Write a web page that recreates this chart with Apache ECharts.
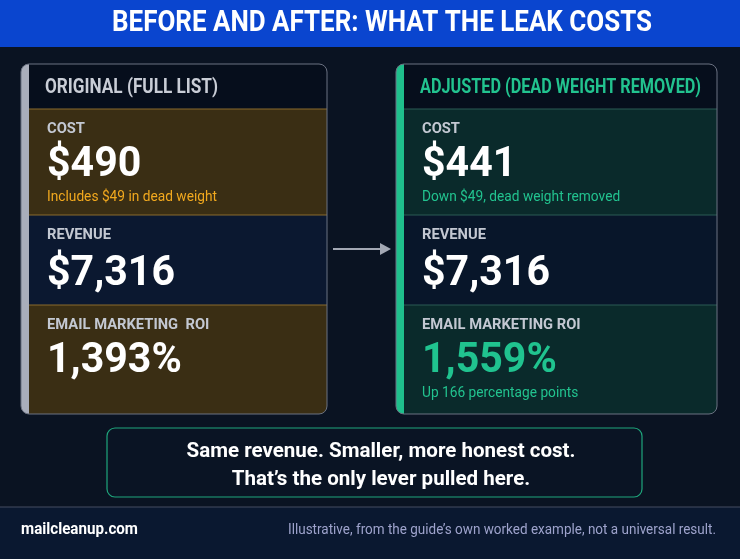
<!DOCTYPE html>
<html style="height: 100%">
<head>
    <meta charset="utf-8">
    <script src="https://cdn.jsdelivr.net/npm/echarts@6/dist/echarts.min.js"></script>
</head>
<body style="height: 100%; margin: 0; background: #0a1322">
<div id="leak_container" style="height: 559px; width: 740px"></div>
<script type="text/javascript">
    // data
    var title = 'BEFORE AND AFTER: WHAT THE LEAK COSTS';
    var panelTitles = ['ORIGINAL (FULL LIST)', 'ADJUSTED (DEAD WEIGHT REMOVED)'];
    var originalLabels = ['COST', 'REVENUE', 'EMAIL MARKETING  ROI'];
    var adjustedLabels = ['COST', 'REVENUE', 'EMAIL MARKETING ROI'];
    var originalValues = ['$490', '$7,316', '1,393%'];
    var adjustedValues = ['$441', '$7,316', '1,559%'];
    var originalNotes = ['Includes $49 in dead weight', '', ''];
    var adjustedNotes = ['Down $49, dead weight removed', '', 'Up 166 percentage points'];
    var summaryLines = ['Same revenue. Smaller, more honest cost.', 'That\u2019s the only lever pulled here.'];
    var footerSite = 'mailcleanup.com';
    var footerNote = 'Illustrative, from the guide\u2019s own worked example, not a universal result.';

    var face = 'Roboto, "Noto Sans", sans-serif';

    // condensed look: squeeze each text style so a sample string gets its width in the picture
    var measureCtx = document.createElement('canvas').getContext('2d');
    function squeeze(font, sample, width) {
        measureCtx.font = font;
        return width / measureCtx.measureText(sample).width;
    }
    var styles = {
        title:   { font: 'bold 29px ' + face },
        panel0:  { font: 'bold 20px ' + face },
        panel1:  { font: 'bold 20px ' + face },
        label:   { font: 'bold 15px ' + face },
        value:   { font: 'bold 42px ' + face },
        note:    { font: '15px ' + face },
        summary: { font: 'bold 20px ' + face },
        site:    { font: 'bold 17px ' + face },
        foot:    { font: '15px ' + face }
    };
    styles.title.sx = squeeze(styles.title.font, title, 540);
    styles.panel0.sx = squeeze(styles.panel0.font, panelTitles[0], 173);
    styles.panel1.sx = squeeze(styles.panel1.font, panelTitles[1], 281);
    styles.label.sx = squeeze(styles.label.font, 'REVENUE', 64);
    styles.value.sx = squeeze(styles.value.font, '$7,316', 128);
    styles.note.sx = squeeze(styles.note.font, originalNotes[0], 170);
    styles.summary.sx = squeeze(styles.summary.font, summaryLines[0], 389);
    styles.site.sx = squeeze(styles.site.font, footerSite, 117);
    styles.foot.sx = squeeze(styles.foot.font, footerNote, 428);

    function txt(x, y, text, kind, fill, align) {
        return {
            type: 'text', x: x, y: y, scaleX: styles[kind].sx,
            style: { x: 0, y: 0, text: text, fill: fill, font: styles[kind].font, textAlign: align || 'left', textVerticalAlign: 'middle' }
        };
    }

    // layout
    var rows = [[109, 215], [215, 305], [305, 414]];
    var cardTop = 64, cardBottom = 414;

    var panels = [
        {
            x0: 21, x1: 327, stripe: '#a9aebb', titleColor: '#c9cdd6',
            rowFill: ['#3a2e14', '#0b1830', '#3a2e14'], line: '#8a6a2c',
            labels: originalLabels, values: originalValues, notes: originalNotes,
            valueColors: ['#ffffff', '#ffffff', '#ffffff'], noteColor: '#f2a91e'
        },
        {
            x0: 396, x1: 717, stripe: '#1fbf8c', titleColor: '#22c38f',
            rowFill: ['#0a2a2b', '#08162a', '#0a2a2b'], line: '#2b5a55',
            labels: adjustedLabels, values: adjustedValues, notes: adjustedNotes,
            valueColors: ['#ffffff', '#ffffff', '#20c38f'], noteColor: '#22c38f'
        }
    ];

    function buildPanel(p, idx) {
        var els = [];
        var w = p.x1 - p.x0;
        els.push({
            type: 'rect',
            shape: { x: p.x0, y: cardTop, width: w, height: cardBottom - cardTop, r: 8 },
            style: { fill: '#060e1c' }
        });
        rows.forEach(function (r, i) {
            els.push({
                type: 'rect',
                shape: { x: p.x0, y: r[0], width: w, height: r[1] - r[0], r: i === rows.length - 1 ? [0, 0, 8, 8] : 0 },
                style: { fill: p.rowFill[i] }
            });
            els.push({
                type: 'line',
                shape: { x1: p.x0, y1: r[0], x2: p.x1, y2: r[0] },
                style: { stroke: p.line, lineWidth: 1 }
            });
            var lx = p.x0 + 26;
            els.push(txt(lx, r[0] + 20, p.labels[i], 'label', '#c3c8d2'));
            els.push(txt(lx, r[0] + (i === 1 ? 59 : 56), p.values[i], 'value', p.valueColors[i]));
            if (p.notes[i]) {
                els.push(txt(lx, r[0] + 88, p.notes[i], 'note', p.noteColor));
            }
        });
        els.push({
            type: 'rect',
            shape: { x: p.x0, y: cardTop, width: 8, height: cardBottom - cardTop, r: [8, 0, 0, 8] },
            style: { fill: p.stripe }
        });
        els.push({
            type: 'rect',
            shape: { x: p.x0, y: cardTop, width: w, height: cardBottom - cardTop, r: 8 },
            style: { fill: null, stroke: '#6b7282', lineWidth: 1 }
        });
        els.push(txt(p.x0 + 24, 88, panelTitles[idx], 'panel' + idx, p.titleColor));
        return els;
    }

    var elements = [];
    // title banner
    elements.push({ type: 'rect', shape: { x: 0, y: 0, width: 740, height: 47 }, style: { fill: '#0a45cf' } });
    elements.push(txt(382, 24, title, 'title', '#ffffff', 'center'));
    panels.forEach(function (p, i) { elements = elements.concat(buildPanel(p, i)); });

    // arrow between cards
    elements.push({ type: 'line', shape: { x1: 333, y1: 249, x2: 386, y2: 249 }, style: { stroke: '#a3a8b4', lineWidth: 2 } });
    elements.push({ type: 'polygon', shape: { points: [[380, 243], [391, 249], [380, 255]] }, style: { fill: '#a3a8b4' } });

    // summary box
    elements.push({
        type: 'rect',
        shape: { x: 107, y: 428, width: 535, height: 69, r: 8 },
        style: { fill: '#0a1424', stroke: '#1fa67c', lineWidth: 1.2 }
    });
    summaryLines.forEach(function (t, i) {
        elements.push(txt(381, 452 + i * 28, t, 'summary', '#ffffff', 'center'));
    });

    // footer
    elements.push({ type: 'rect', shape: { x: 0, y: 507, width: 740, height: 52 }, style: { fill: '#0a1830' } });
    elements.push({ type: 'line', shape: { x1: 0, y1: 507, x2: 740, y2: 507 }, style: { stroke: '#454d60', lineWidth: 1 } });
    elements.push(txt(21, 530, footerSite, 'site', '#ffffff'));
    elements.push(txt(716, 530, footerNote, 'foot', '#9ea3cc', 'right'));

    var leak_dom = document.getElementById('leak_container');
    var leak_chart = echarts.init(leak_dom);
    var leak_option = {
        backgroundColor: '#0a1322',
        graphic: { elements: elements }
    };
    leak_chart.setOption(leak_option, true);
</script>
</body>
</html>
